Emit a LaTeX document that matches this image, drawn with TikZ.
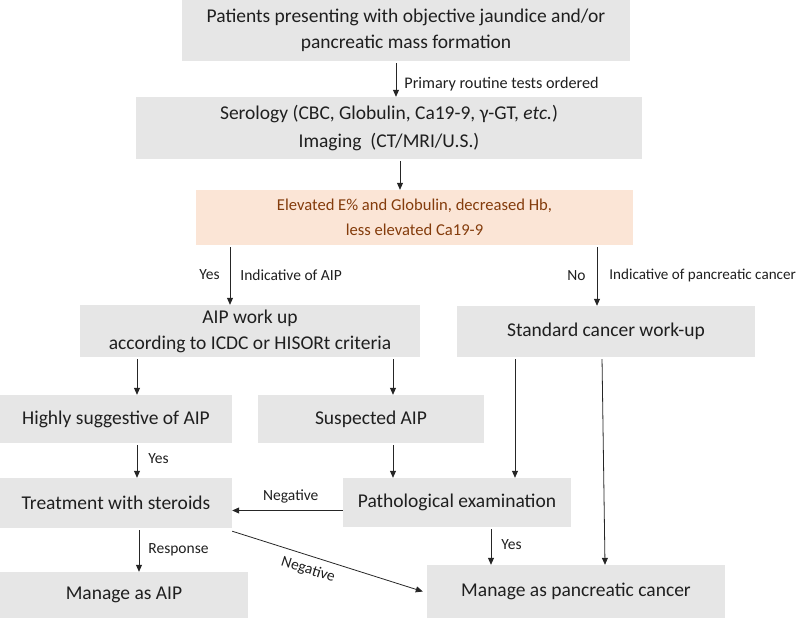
\documentclass[tikz,border=0pt]{standalone}
\usepackage{fontspec}
\setmainfont{Carlito}
\usetikzlibrary{arrows.meta}
\definecolor{boxgray}{HTML}{E6E6E6}
\definecolor{peach}{HTML}{FBE5D6}
\definecolor{rust}{HTML}{843C0C}
\begin{document}
\begin{tikzpicture}[x=1pt,y=-1pt,
  box/.style={fill=boxgray, draw=none, inner sep=0pt, align=center,
    font=\fontsize{19.5}{26}\selectfont, text=black!88},
  lbl/.style={font=\fontsize{15.5}{17}\selectfont, inner sep=0pt, text=black!88},
  arr/.style={-{Triangle[length=7pt,width=6pt]}, line width=0.8pt, draw=black!85, shorten <=2pt}]
\useasboundingbox (0,0) rectangle (800,618);

\node[box, minimum width=448pt, minimum height=61pt] (b1) at (406,30.5)
  {Patients presenting with objective jaundice and/or\\pancreatic mass formation};
\node[box, minimum width=506pt, minimum height=62pt, font=\fontsize{19.5}{28}\selectfont] (b2) at (389,128)
  {Serology (CBC, Globulin, Ca19-9, γ-GT, \textit{etc.})\\Imaging \ (CT/MRI/U.S.)};
\node[box, fill=peach, text=rust, font=\fontsize{16.6}{25}\selectfont, minimum width=437pt, minimum height=55pt] (b3) at (414.5,217.5)
  {Elevated E\% and Globulin, decreased Hb,\\less elevated Ca19-9};
\node[box, minimum width=340pt, minimum height=52pt] (b4) at (250,331)
  {AIP work up\\according to ICDC or HISORt criteria};
\node[box, minimum width=298pt, minimum height=51pt] (bs) at (606,331.5)
  {Standard cancer work-up};
\node[box, minimum width=232pt, minimum height=48pt] (b5) at (116,419)
  {Highly suggestive of AIP};
\node[box, minimum width=226pt, minimum height=48pt] (b6) at (371,419)
  {Suspected AIP};
\node[box, minimum width=232pt, minimum height=50pt] (b7) at (116,503)
  {Treatment with steroids};
\node[box, minimum width=228pt, minimum height=49pt] (b8) at (457,502.5)
  {Pathological examination};
\node[box, minimum width=298pt, minimum height=53pt] (b9) at (576,591.5)
  {Manage as pancreatic cancer};
\node[box, minimum width=248pt, minimum height=46pt] (b10) at (124,595)
  {Manage as AIP};

\draw[arr] ([xshift=-10pt]b1.south) -- node[lbl, anchor=west, pos=0.65, xshift=8pt, font=\fontsize{16.2}{17}\selectfont] {Primary routine tests ordered} ([xshift=-10pt]b1.south |- b2.north);
\draw[arr] ([xshift=11pt]b2.south) -- ([xshift=11pt]b2.south |- b3.north);
\draw[arr] ([xshift=-20pt]b4.north |- b3.south) --
  node[lbl, anchor=east, pos=0.5, xshift=-10pt] {Yes}
  node[lbl, anchor=west, pos=0.5, xshift=10pt] {Indicative of AIP}
  ([xshift=-20pt]b4.north);
\draw[arr] ([xshift=-9pt]bs.north |- b3.south) --
  node[lbl, anchor=east, pos=0.5, xshift=-11pt] {No}
  node[lbl, anchor=west, pos=0.5, xshift=12pt, font=\fontsize{15.1}{17}\selectfont] {Indicative of pancreatic cancer}
  ([xshift=-9pt]bs.north);
\draw[arr] ([xshift=21pt]b5.north |- b4.south) -- ([xshift=21pt]b5.north);
\draw[arr] ([xshift=22pt]b6.north |- b4.south) -- ([xshift=22pt]b6.north);
\draw[arr] ([xshift=21pt]b5.south) -- node[lbl, anchor=west, pos=0.45, xshift=11pt] {Yes} ([xshift=21pt]b5.south |- b7.north);
\draw[arr] ([xshift=22pt]b6.south) -- ([xshift=22pt]b6.south |- b8.north);
\draw[arr] ([xshift=-91pt]bs.south) -- ([xshift=-91pt]bs.south |- b8.north);
\draw[arr] ([xshift=-4pt]bs.south) -- ([xshift=29pt]b9.north);
\draw[arr, shorten <=0pt] ([yshift=-8pt]b8.west) -- node[lbl, above=7pt, pos=0.47] {Negative} ([yshift=-8pt]b8.west -| b7.east);
\draw[arr] ([xshift=34pt]b8.south) -- node[lbl, anchor=west, pos=0.45, xshift=10pt] {Yes} ([xshift=34pt]b8.south |- b9.north);
\draw[arr] ([xshift=23pt]b7.south) -- node[lbl, anchor=west, pos=0.5, xshift=9pt] {Response} ([xshift=23pt]b7.south |- b10.north);
\draw[arr, shorten <=0pt] ([yshift=-3pt]b7.south east) -- node[lbl, sloped, below=7pt, pos=0.42] {Negative} ([xshift=-4pt]b9.west);
\end{tikzpicture}
\end{document}
